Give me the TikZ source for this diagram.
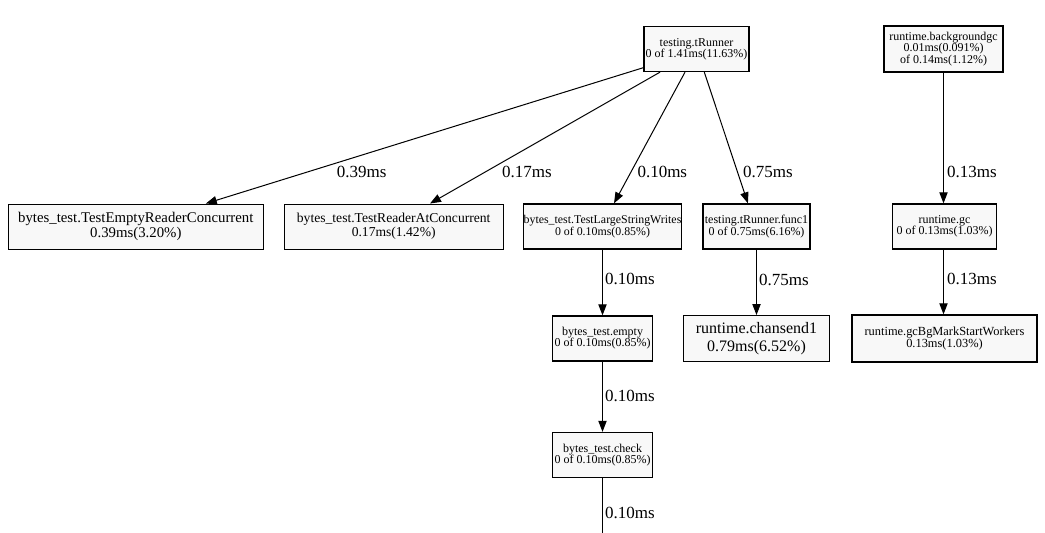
\documentclass[tikz,border=0pt]{standalone}
\usepackage{fontspec}
\setmainfont{Liberation Serif}
\usetikzlibrary{arrows.meta,calc}
\definecolor{boxfill}{HTML}{F8F8F8}
\tikzset{
  fn/.style={draw=black, fill=boxfill, line width=1pt, inner sep=0pt, align=center, text=black},
  bx/.style 2 args={minimum width=#1*0.75pt, minimum height=#2*0.75pt},
  fsmall/.style={font=\fontsize{9}{8.4}\selectfont},
  edge/.style={draw=black, line width=0.75pt, -{Triangle[length=8.25pt,width=6.2pt]}},
  plainedge/.style={draw=black, line width=0.75pt},
  lbl/.style={inner sep=0pt, font=\fontsize{12.75}{14}\selectfont, text=black}
}
\begin{document}
\begin{tikzpicture}[x=0.75pt,y=-0.75pt]
\clip (0,0) rectangle (1045,532);
\fill[white] (0,0) rectangle (1045,532);
% nodes
\node[fn,bx={105}{45},fsmall] (tr) at (696.5,49) {testing.tRunner\\0 of 1.41ms(11.63\%)};
\node[fn,bx={119}{46},font=\fontsize{9}{8.8}\selectfont] (bg) at (943.5,49) {runtime.backgroundgc\\0.01ms(0.091\%)\\of 0.14ms(1.12\%)};
\node[fn,bx={255}{45},font=\fontsize{11.1}{11.25}\selectfont] (er) at (135.8,226.7) {bytes\_test.TestEmptyReaderConcurrent\\0.39ms(3.20\%)};
\node[fn,bx={219}{45},font=\fontsize{10.2}{10.5}\selectfont] (ra) at (393.7,226.7) {bytes\_test.TestReaderAtConcurrent\\0.17ms(1.42\%)};
\node[fn,bx={156}{45},font=\fontsize{8.9}{7.6}\selectfont] (ls) at (602.5,226.5) {bytes\_test.TestLargeStringWrites\\0 of 0.10ms(0.85\%)};
\node[fn,bx={107}{45},fsmall] (f1) at (756.5,226.5) {testing.tRunner.func1\\0 of 0.75ms(6.16\%)};
\node[fn,bx={104}{45},fsmall] (gc) at (944.5,226.5) {runtime.gc\\0 of 0.13ms(1.03\%)};
\node[fn,bx={100}{45},fsmall] (em) at (602.5,338.5) {bytes\_test.empty\\0 of 0.10ms(0.85\%)};
\node[fn,bx={146}{46},font=\fontsize{12}{13.5}\selectfont] (cs) at (756.5,338.7) {runtime.chansend1\\0.79ms(6.52\%)};
\node[fn,bx={185}{47},font=\fontsize{9.3}{8.8}\selectfont] (gw) at (944.5,338.5) {runtime.gcBgMarkStartWorkers\\0.13ms(1.03\%)};
\node[fn,bx={100}{45},fsmall] (ck) at (602.5,455) {bytes\_test.check\\0 of 0.10ms(0.85\%)};
\coordinate (ckend) at (602.5,545);
% edges
\draw[edge] ($(tr.south west)+(1,-4.8)$) -- ($(er.north)+(70,0)$);
\draw[edge] ($(tr.south)+(-36.5,0)$) -- ($(ra.north)+(36.3,0)$);
\draw[edge] ($(tr.south)+(-11.5,0)$) -- ($(ls.north)+(11.5,0)$);
\draw[edge] ($(tr.south)+(7.8,0)$) -- ($(f1.north)+(-8.6,0)$);
\draw[edge] (bg.south) -- (bg.south |- gc.north);
\draw[edge] (gc.south -| bg.south) -- (gw.north -| bg.south);
\draw[edge] (ls.south -| em.north) -- (em.north);
\draw[edge] (f1.south -| cs.north) -- (cs.north);
\draw[edge] (em.south) -- (ck.north);
\draw[plainedge] (ck.south) -- (ckend);
% labels
\node[lbl] (l1) at (361.7,171.7) {0.39ms};
\node[lbl] (l2) at (527,171.7) {0.17ms};
\node[lbl] (l3) at (662.3,171.7) {0.10ms};
\node[lbl] (l4) at (768,171.7) {0.75ms};
\node[lbl] (l5) at (972,171.7) {0.13ms};
\node[lbl] (l6) at (630,279) {0.10ms};
\node[lbl] (l7) at (784,280) {0.75ms};
\node[lbl] (l8) at (972,279) {0.13ms};
\node[lbl] (l9) at (630,395.7) {0.10ms};
\node[lbl] (l10) at (630,513.3) {0.10ms};
\end{tikzpicture}
\end{document}
